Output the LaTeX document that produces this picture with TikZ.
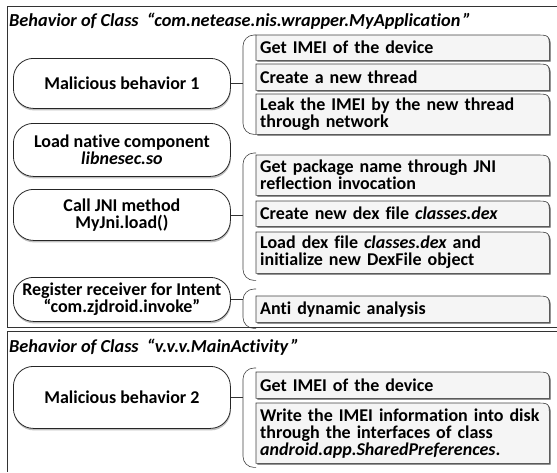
\documentclass[tikz,border=0pt]{standalone}
\usepackage{fontspec}
\setmainfont{Carlito}[Ligatures=NoCommon]
\usetikzlibrary{shadows,backgrounds,calc}
\tikzset{
  txt/.style={font=\fontsize{18}{17}\selectfont\bfseries},
  lbox/.style={txt, draw=black!85, line width=0.8pt, rounded corners=20pt, fill=white,
    anchor=north west, minimum width=217pt, align=center, inner sep=2pt,
    drop shadow={shadow xshift=0.5pt, shadow yshift=-2pt, fill=black!25, opacity=1}},
  rbox/.style={txt, anchor=north west, minimum width=291pt, text width=285pt,
    inner xsep=4pt, inner ysep=3pt, align=left},
  rline/.style={draw=black!75, line width=0.6pt, fill=black!4,
    drop shadow={shadow xshift=1.3pt, shadow yshift=-1.3pt, fill=black!65, opacity=1}},
  brk/.style={draw=black!75, line width=0.6pt, rounded corners=11pt},
  conn/.style={draw=black!80, line width=0.8pt},
  frm/.style={draw=black!80, line width=0.8pt},
  ttl/.style={anchor=base west, inner sep=0pt, font=\fontsize{18.3}{18}\selectfont\bfseries\itshape}
}
\begin{document}
\begin{tikzpicture}[x=1pt,y=-1pt]
\useasboundingbox (0,0) rectangle (557,472);
\path (9,26) node[ttl] (t1) {Behavior of Class \ “com.netease.nis.wrapper.MyApplication\,”}
      (13,58) node[lbox, minimum height=50pt] (mb1) {Malicious behavior 1}
      (13,123) node[lbox, minimum height=53pt] (lnc) {Load native component\\\textit{libnesec.so}}
      (13,189) node[lbox, minimum height=51pt] (jni) {Call JNI method\\MyJni.load()}
      (13,277) node[lbox, minimum height=44pt] (reg) {Register receiver for Intent\\“com.zjdroid.invoke”}
      (9,352) node[ttl] (t2) {Behavior of Class \ “v.v.v.MainActivity\,”}
      (13,366) node[lbox, minimum height=62pt] (mb2) {Malicious behavior 2}
      (256,35) node[rbox, minimum height=25pt] (imei1) {Get IMEI of the device}
      (256,64) node[rbox, minimum height=26pt] (thr) {Create a new thread}
      (256,94) node[rbox, minimum height=40pt] (leak) {Leak the IMEI by the new thread\\through network}
      (256,155) node[rbox, minimum height=40pt] (pkg) {Get package name through JNI\\reflection invocation}
      (256,201) node[rbox, minimum height=25pt] (dex) {Create new dex file \textit{classes.dex}}
      (256,232) node[rbox, minimum height=41pt] (ldx) {Load dex file \textit{classes.dex} and\\initialize new DexFile object}
      (256,296) node[rbox, minimum height=26pt] (anti) {Anti dynamic analysis}
      (256,372) node[rbox, minimum height=26pt] (imei2) {Get IMEI of the device}
      (256,403) node[rbox, minimum height=60pt] (wr) {Write the IMEI information into disk\\through the interfaces of class\\\textit{android.app.SharedPreferences}.}
      ;
\coordinate (vx) at (243,0);

\draw[frm] (557,6) -- (7,6) -- (7,327) -- (557,327);
\draw[frm] (557,331) -- (7,331) -- (7,472);

\draw[conn] (mb1.east) -- (mb1.east -| vx);
\draw[conn] (jni.east) -- (jni.east -| vx);
\draw[conn] (reg.east) -- (reg.east -| vx);
\draw[conn] (mb2.east) -- (mb2.east -| vx);

\begin{scope}[on background layer]
\draw[brk] (imei1.north west) -- (imei1.north west -| vx) -- (leak.south west -| vx) -- (leak.south west);
\draw[brk] ($(pkg.north west)+(0,-2)$) -- ($(pkg.north west -| vx)+(0,-2)$) -- ($(ldx.south west -| vx)+(0,7)$) -- ($(ldx.south west)+(0,7)$);
\draw[brk] ($(anti.north west)+(0,-7)$) -- ($(anti.north west -| vx)+(0,-7)$) -- ($(anti.south west -| vx)+(0,6)$) -- ($(anti.south west)+(0,6)$);
\draw[brk] ($(imei2.north west)+(0,-4)$) -- ($(imei2.north west -| vx)+(0,-4)$) -- ($(wr.south west -| vx)+(0,4)$) -- ($(wr.south west)+(0,4)$);
\foreach \n in {imei1,thr,leak,pkg,dex,ldx,anti,imei2,wr}
  \draw[rline] (\n.south west) -- (\n.north west) -- ([xshift=-14pt]\n.north east)
    .. controls (\n.north east) .. ([yshift=-14pt]\n.north east) -- (\n.south east) -- cycle;
\end{scope}
\end{tikzpicture}
\end{document}
